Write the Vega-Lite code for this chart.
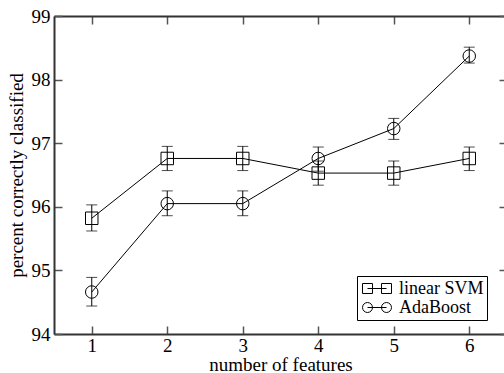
{
  "$schema": "https://vega.github.io/schema/vega-lite/v6.json",
  "width": 453,
  "height": 318,
  "autosize": "none",
  "padding": {"left": 54, "top": 16, "right": 0, "bottom": 39},
  "background": "white",
  "config": {
    "font": "Liberation Serif",
    "view": {"stroke": null},
    "axis": {
      "labelFont": "Liberation Serif",
      "labelFontSize": 19,
      "labelColor": "black",
      "titleFont": "Liberation Serif",
      "titleFontSize": 19,
      "titleFontWeight": "normal",
      "titleColor": "black",
      "domainColor": "#333333",
      "domainWidth": 2,
      "tickColor": "#555555",
      "tickWidth": 1.5,
      "tickSize": -8,
      "grid": false
    }
  },
  "data": {
    "values": [
      {"n": 1, "series": "linear SVM", "acc": 95.82, "lo": 95.62, "hi": 96.03},
      {"n": 2, "series": "linear SVM", "acc": 96.76, "lo": 96.57, "hi": 96.95},
      {"n": 3, "series": "linear SVM", "acc": 96.76, "lo": 96.57, "hi": 96.95},
      {"n": 4, "series": "linear SVM", "acc": 96.53, "lo": 96.34, "hi": 96.72},
      {"n": 5, "series": "linear SVM", "acc": 96.53, "lo": 96.34, "hi": 96.72},
      {"n": 6, "series": "linear SVM", "acc": 96.76, "lo": 96.57, "hi": 96.94},
      {"n": 1, "series": "AdaBoost", "acc": 94.66, "lo": 94.44, "hi": 94.89},
      {"n": 2, "series": "AdaBoost", "acc": 96.05, "lo": 95.86, "hi": 96.25},
      {"n": 3, "series": "AdaBoost", "acc": 96.05, "lo": 95.86, "hi": 96.25},
      {"n": 4, "series": "AdaBoost", "acc": 96.76, "lo": 96.56, "hi": 96.94},
      {"n": 5, "series": "AdaBoost", "acc": 97.23, "lo": 97.06, "hi": 97.39},
      {"n": 6, "series": "AdaBoost", "acc": 98.37, "lo": 98.26, "hi": 98.51}
    ]
  },
  "resolve": {"axis": {"x": "independent", "y": "independent"}, "scale": {"shape": "independent"}},
  "layer": [
    {
      "mark": {"type": "line", "color": "black", "strokeWidth": 1},
      "encoding": {
        "x": {"field": "n", "type": "quantitative", "scale": {"domain": [0.5, 6.5], "nice": false, "zero": false},
              "axis": {"orient": "bottom", "values": [1, 2, 3, 4, 5, 6], "title": "number of features", "labelPadding": 10, "titlePadding": 0}},
        "y": {"field": "acc", "type": "quantitative", "scale": {"domain": [94, 99], "nice": false, "zero": false},
              "axis": {"orient": "left", "values": [94, 95, 96, 97, 98, 99], "title": "percent correctly classified", "labelPadding": 12, "titlePadding": 5}},
        "detail": {"field": "series"}
      }
    },
    {
      "mark": {"type": "rule", "color": "black", "strokeWidth": 1},
      "encoding": {
        "x": {"field": "n", "type": "quantitative", "axis": {"orient": "top", "values": [1, 2, 3, 4, 5, 6], "labels": false, "title": null}},
        "y": {"field": "lo", "type": "quantitative", "axis": {"orient": "right", "values": [94, 95, 96, 97, 98, 99], "labels": false, "title": null}},
        "y2": {"field": "hi"}
      }
    },
    {
      "mark": {"type": "tick", "orient": "horizontal", "color": "black", "size": 11, "thickness": 1},
      "encoding": {
        "x": {"field": "n", "type": "quantitative", "axis": null},
        "y": {"field": "lo", "type": "quantitative", "axis": null}
      }
    },
    {
      "mark": {"type": "tick", "orient": "horizontal", "color": "black", "size": 11, "thickness": 1},
      "encoding": {
        "x": {"field": "n", "type": "quantitative", "axis": null},
        "y": {"field": "hi", "type": "quantitative", "axis": null}
      }
    },
    {
      "mark": {"type": "point", "filled": false, "color": "black", "strokeWidth": 1, "size": 156, "opacity": 1},
      "encoding": {
        "x": {"field": "n", "type": "quantitative", "axis": null},
        "y": {"field": "acc", "type": "quantitative", "axis": null},
        "shape": {
          "field": "series", "type": "nominal",
          "scale": {"domain": ["linear SVM", "AdaBoost"], "range": ["square", "circle"]},
          "legend": null
        }
      }
    },
    {
      "mark": {"type": "point", "filled": false, "color": "black", "strokeWidth": 1, "size": 324, "opacity": 0},
      "encoding": {
        "x": {"field": "n", "type": "quantitative", "axis": null},
        "y": {"field": "acc", "type": "quantitative", "axis": null},
        "shape": {
          "field": "series", "type": "nominal",
          "scale": {"domain": ["linear SVM", "AdaBoost"], "range": [
            "M-0.778,-0.555H0.333V0.555H-0.778Z M-0.222,0H1.889 M1.333,-0.555H2.444V0.555H1.333Z",
            "M0.333,0A0.555,0.555 0 1,1 -0.778,0A0.555,0.555 0 1,1 0.333,0Z M-0.222,0H1.889 M2.444,0A0.555,0.555 0 1,1 1.333,0A0.555,0.555 0 1,1 2.444,0Z"
          ]},
          "legend": {
            "title": null,
            "orient": "none",
            "legendX": 303,
            "legendY": 260,
            "strokeColor": "black",
            "fillColor": "white",
            "padding": 3,
            "labelFont": "Liberation Serif",
            "labelFontSize": 18,
            "labelLimit": 300,
            "labelColor": "black",
            "labelOffset": 20,
            "symbolSize": 324,
            "symbolOpacity": 1,
            "symbolStrokeWidth": 1,
            "symbolStrokeColor": "black",
            "symbolFillColor": "transparent",
            "rowPadding": -3
          }
        }
      }
    }
  ]
}
